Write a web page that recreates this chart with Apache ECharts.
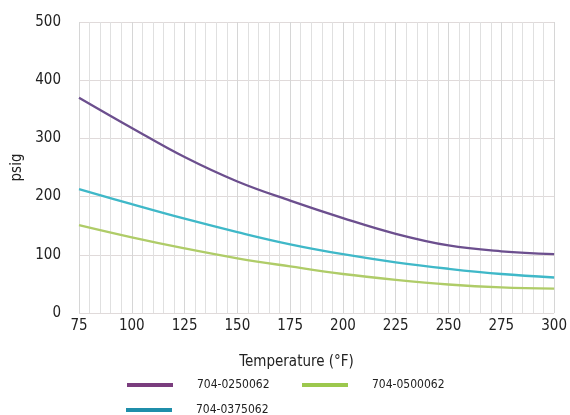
<!DOCTYPE html>
<html>
<head>
<meta charset="utf-8">
<script src="https://cdn.jsdelivr.net/npm/echarts@6/dist/echarts.min.js"></script>
<style>html,body{margin:0;padding:0;background:#fff}#c{width:570px;height:415px}</style>
</head>
<body>
<div id="c"></div>
<script>
const temps = [75, 100, 125, 150, 175, 200, 225, 250, 275, 300];
const s0250062 = [370, 318, 268, 226, 193, 163, 136, 116, 106, 101];
const s0375062 = [213, 187, 162, 139, 118, 101, 87, 76, 67, 61];
const s0500062 = [151, 130, 111, 94, 80, 67, 57, 49, 44, 42];
const seriesNames = ['704-0250062', '704-0375062', '704-0500062'];
const lineColors = ['#6c4f8e', '#3fb8c8', '#afcc68'];
const legendColors = ['#7a3d7e', '#1f8eaa', '#9cc84d'];
const yTicks = [0, 100, 200, 300, 400, 500];
const xTicks = [75, 100, 125, 150, 175, 200, 225, 250, 275, 300];

const FONT = "'DejaVu Sans Condensed', 'Liberation Sans Narrow', sans-serif";
const allData = [s0250062, s0375062, s0500062];

const chart = echarts.init(document.getElementById('c'));
const series = seriesNames.map((n, i) => ({
  name: n,
  type: 'line',
  smooth: 0.4,
  symbol: 'none',
  data: temps.map((t, k) => [t, allData[i][k]]),
  lineStyle: { color: lineColors[i], width: 2.3 },
  itemStyle: { color: lineColors[i] }
}));

const legendPos = [[127, 379], [126, 404], [302, 379]];
const legends = seriesNames.map((n, i) => ({
  left: legendPos[i][0], top: legendPos[i][1],
  padding: 0,
  orient: 'horizontal',
  icon: 'rect', itemWidth: 46, itemHeight: 4,
  selectedMode: false,
  data: [{ name: n, itemStyle: { color: legendColors[i] } }],
  textStyle: { fontFamily: FONT, fontSize: 12, color: '#222', padding: [0, 0, 0, 19] }
}));

chart.setOption({
  animation: false,
  grid: { left: 79, right: 12, top: 22, bottom: 102 },
  legend: legends,
  xAxis: {
    type: 'value', min: xTicks[0], max: xTicks[xTicks.length - 1], interval: 25,
    name: 'Temperature (°F)', nameLocation: 'middle', nameGap: 42,
    nameTextStyle: { fontFamily: FONT, fontSize: 15, color: '#222', padding: [0, 40, 0, 0] },
    axisLine: { show: false }, axisTick: { show: false },
    axisLabel: { fontFamily: FONT, fontSize: 15, color: '#222', margin: 6 },
    splitLine: { show: true, lineStyle: { color: '#d6d6d6', width: 1 } },
    minorTick: { show: false, splitNumber: 5 },
    minorSplitLine: { show: true, lineStyle: { color: '#e0e0e0', width: 1 } }
  },
  yAxis: {
    type: 'value', min: yTicks[0], max: yTicks[yTicks.length - 1], interval: 100,
    name: 'psig', nameLocation: 'middle', nameGap: 50,
    nameTextStyle: { fontFamily: FONT, fontSize: 15, color: '#222' },
    axisLine: { show: false }, axisTick: { show: false },
    axisLabel: { fontFamily: FONT, fontSize: 15, color: '#222', margin: 18 },
    splitLine: { show: true, lineStyle: { color: '#e0dada', width: 1 } }
  },
  series: series
});
</script>
</body>
</html>
